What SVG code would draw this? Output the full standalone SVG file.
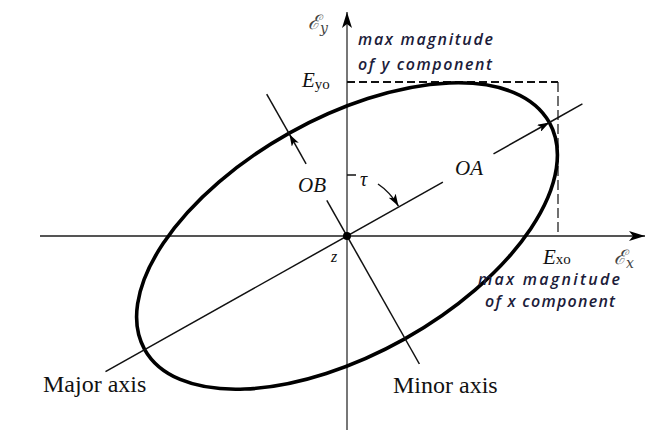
<svg xmlns="http://www.w3.org/2000/svg" width="660" height="439" viewBox="0 0 660 439">
  <style>
    .axis { stroke: #555; fill: none; }
    .thin { stroke: #111; stroke-width: 1.5; fill: none; }
    .ell { stroke: #000; stroke-width: 3.6; fill: none; }
    .dash { stroke: #111; fill: none; }
    .serif { font-family: "Liberation Serif", "Times New Roman", serif; fill: #111; }
    .ital { font-style: italic; }
    .note { font-family: "Open Sans", "Liberation Sans", sans-serif; font-style: italic; font-weight: 600; font-size: 16px; fill: #1c1c3a; }
    .script { font-family: "DejaVu Serif", serif; font-style: italic; fill: #444; }
  </style>
  <defs>
    <marker id="ah" viewBox="0 0 12 8" refX="12" refY="4" markerWidth="12" markerHeight="8" markerUnits="userSpaceOnUse" orient="auto">
      <path d="M0,0 L12,4 L0,8 L3,4 Z" fill="#000"/>
    </marker>
    <marker id="axh" viewBox="0 0 16 10" refX="16" refY="5" markerWidth="16" markerHeight="10" markerUnits="userSpaceOnUse" orient="auto">
      <path d="M0,0 L16,5 L0,10 L4,5 Z" fill="#000"/>
    </marker>
  </defs>
  <rect width="660" height="439" fill="#fff"/>

  <g id="axes">
    <line class="axis" x1="40" y1="236" x2="645" y2="236" stroke-width="2" marker-end="url(#axh)"/>
    <line class="axis" x1="347" y1="430" x2="347" y2="12" stroke-width="1.6" marker-end="url(#axh)"/>
  </g>

  <g id="bounds">
    <polyline class="dash" points="347,82 558,82" stroke-width="1.8" stroke-dasharray="8,4"/>
    <polyline class="dash" points="558,82 558,236" stroke-width="1.2" stroke-dasharray="10,4"/>
  </g>

  <g id="ellipse">
    <ellipse class="ell" cx="347" cy="236" rx="232" ry="118" transform="rotate(-29.3 347 236)"/>
  </g>

  <g id="connectors">
    <line class="thin" x1="105.5" y1="371.6" x2="442.9" y2="182.2"/>
    <line class="thin" x1="493.5" y1="153.8" x2="549.3" y2="122.5" marker-end="url(#ah)"/>
    <line class="thin" x1="549.3" y1="122.5" x2="582.4" y2="103.9"/>
    <line class="thin" x1="306.1" y1="163.8" x2="289.4" y2="134.2" marker-end="url(#ah)"/>
    <line class="thin" x1="289.4" y1="134.2" x2="266.7" y2="94.1"/>
    <line class="thin" x1="326.8" y1="200.3" x2="419.4" y2="364"/>
    <line class="thin" x1="347" y1="175" x2="356" y2="175"/>
    <path class="thin" d="M378,184 Q390,192 398.4,206" marker-end="url(#ah)"/>
  </g>

  <g id="center">
    <circle cx="347" cy="236" r="4" fill="#000"/>
  </g>

  <g id="labels">
    <text class="script" x="308" y="29" font-size="20">ℰ<tspan font-size="14" dy="4">y</tspan></text>
    <text class="script" x="614" y="264" font-size="20">ℰ<tspan font-size="14" dy="4">x</tspan></text>
    <text class="serif" x="302" y="87" font-size="21"><tspan class="ital">E</tspan><tspan font-size="15" dy="2">yo</tspan></text>
    <text class="serif" x="543" y="264" font-size="21"><tspan class="ital">E</tspan><tspan font-size="15">xo</tspan></text>
    <text class="serif ital" x="298" y="192" font-size="21">OB</text>
    <text class="serif ital" x="455" y="175" font-size="21">OA</text>
    <text class="serif ital" x="360" y="186" font-size="20">τ</text>
    <text class="serif ital" x="331" y="262" font-size="16" fill="#444">z</text>
    <text class="serif" x="43" y="392" font-size="24">Major axis</text>
    <text class="serif" x="393" y="393" font-size="24">Minor axis</text>
    <text class="note" x="358" y="45" textLength="135" lengthAdjust="spacing">max magnitude</text>
    <text class="note" x="358" y="70" textLength="134" lengthAdjust="spacing">of y component</text>
    <text class="note" x="478" y="285" textLength="142" lengthAdjust="spacing">max magnitude</text>
    <text class="note" x="485" y="307" textLength="130" lengthAdjust="spacing">of x component</text>
  </g>
</svg>
